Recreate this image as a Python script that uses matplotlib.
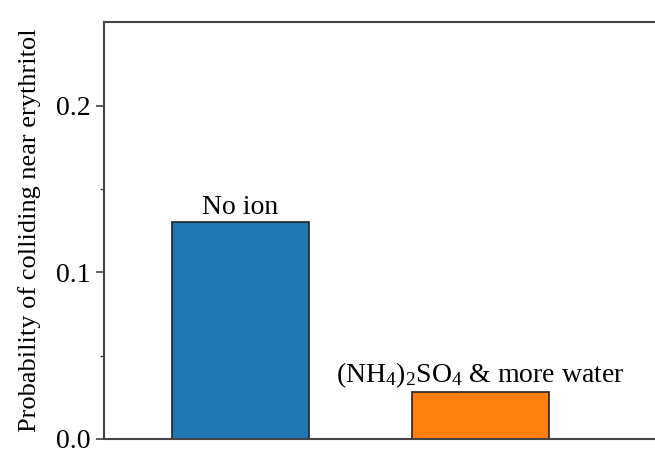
import matplotlib
matplotlib.use("Agg")
import matplotlib.pyplot as plt
from matplotlib.ticker import MultipleLocator, FixedLocator

# Data
groups = ["No ion", r"(NH$_4$)$_2$SO$_4$ & more water"]
probability = [0.130, 0.028]
colors = ["#1f77b4", "#ff7f0e"]

plt.rcParams["font.family"] = ["Liberation Serif", "DejaVu Serif"]
plt.rcParams["mathtext.fontset"] = "custom"
plt.rcParams["mathtext.rm"] = "Liberation Serif"
plt.rcParams["mathtext.it"] = "Liberation Serif:italic"
plt.rcParams["font.size"] = 20


def main():
    fig = plt.figure(figsize=(6.55, 4.5), dpi=100)
    # axes runs a bit past the right edge, like the cropped original
    ax = fig.add_axes([104 / 655, 11 / 450, 560 / 655, 416.7 / 450])

    x = list(range(len(groups)))
    bars = ax.bar(x, probability, width=0.57, color=colors,
                  edgecolor="#222222", linewidth=1.2)

    for bar, label in zip(bars, groups):
        ax.annotate(label, (bar.get_x() + bar.get_width() / 2, bar.get_height()),
                    xytext=(0, 2), textcoords="offset points",
                    ha="center", va="bottom")

    ax.set_xlim(-0.569, 1.764)
    ax.set_ylim(0, 0.25)
    ax.yaxis.set_major_locator(MultipleLocator(0.1))
    ax.yaxis.set_minor_locator(FixedLocator([0.05, 0.15]))
    ax.set_xticks([])
    ax.tick_params(axis="y", which="major", length=6, width=1.2, color="#444444")
    ax.tick_params(axis="y", which="minor", length=3.2, width=1.0, color="#444444")
    for side in ["left", "bottom", "top"]:
        ax.spines[side].set_linewidth(1.5)
        ax.spines[side].set_color("#444444")
    ax.spines["right"].set_visible(False)

    ax.set_ylabel("Probability of colliding near erythritol", fontsize=19, labelpad=11)

    fig.savefig("out.png", dpi=100)


if __name__ == "__main__":
    main()
